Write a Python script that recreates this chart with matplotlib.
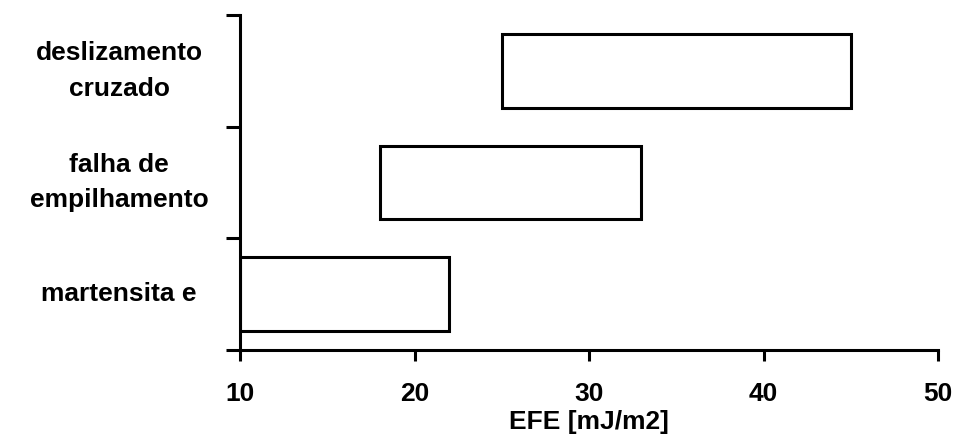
import matplotlib
matplotlib.use('Agg')
import matplotlib.pyplot as plt

# categories bottom to top
categories = ['martensita e', 'falha de\nempilhamento', 'deslizamento\ncruzado']
starts = [10, 18, 25]
ends = [22, 33, 45]
xticks = [10, 20, 30, 40, 50]

plt.rcParams['font.family'] = ['Liberation Sans', 'DejaVu Sans']
plt.rcParams['font.weight'] = 'bold'

fig = plt.figure(figsize=(9.57, 4.37), dpi=100)
ax = fig.add_axes([240/957, 1 - 350/437, (938 - 240)/957, (350 - 15)/437])

widths = [e - s for s, e in zip(starts, ends)]
ypos = range(len(categories))
ax.barh(ypos, widths, left=starts, height=0.66, color='white',
        edgecolor='black', linewidth=2.2)

ax.set_xlim(10, 50)
ax.set_ylim(-0.5, 2.5)
ax.set_xticks(xticks)
ax.set_xticklabels([str(t) for t in xticks], fontsize=19, fontweight='bold')
ax.set_yticks([-0.5, 0.5, 1.5, 2.5])
ax.set_yticklabels([])
ax.tick_params(axis='y', length=10, width=2.2, direction='out')
ax.tick_params(axis='x', length=8, width=2.2, direction='out', pad=15)

for y, lab in zip(ypos, categories):
    ax.text(-0.173, y, lab, transform=ax.get_yaxis_transform(), ha='center',
            va='center', fontsize=19, fontweight='bold', linespacing=1.6)

ax.set_xlabel('EFE [mJ/m2]', fontsize=19, fontweight='bold', labelpad=3)

for s in ['top', 'right']:
    ax.spines[s].set_visible(False)
for s in ['left', 'bottom']:
    ax.spines[s].set_linewidth(2.2)

fig.savefig('out.png', dpi=100, facecolor='white')
